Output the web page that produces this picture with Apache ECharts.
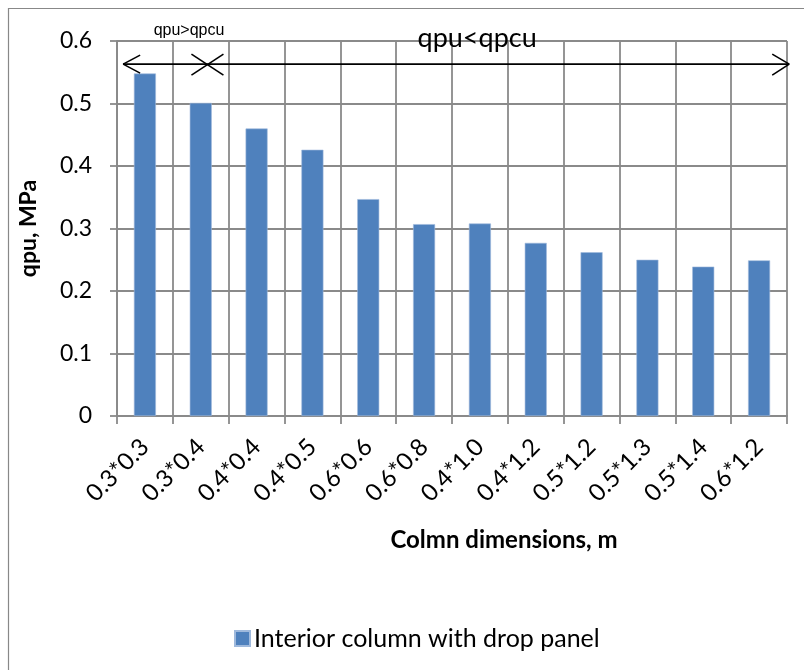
<!DOCTYPE html>
<html><head><meta charset="utf-8">
<script src="https://cdn.jsdelivr.net/npm/echarts@6/dist/echarts.min.js"></script>
<style>html,body{margin:0;padding:0;background:#fff}#c{width:804px;height:670px}</style>
</head><body><div id="c"></div>
<script>
const categories = ['0.3*0.3','0.3*0.4','0.4*0.4','0.4*0.5','0.6*0.6','0.6*0.8','0.4*1.0','0.4*1.2','0.5*1.2','0.5*1.3','0.5*1.4','0.6*1.2'];
const qpu = [0.548, 0.501, 0.460, 0.426, 0.347, 0.307, 0.308, 0.277, 0.262, 0.250, 0.239, 0.249];
const seriesName = 'Interior column with drop panel';
const yTicks = [0, 0.1, 0.2, 0.3, 0.4, 0.5, 0.6];
// annotation arrows (in category units along the axis, value units up)
const arrowY = 0.563;
const arrowLeft = 0.11, arrowSplit = 1.62, arrowRight = 12.04;
const note1 = {text: 'qpu>qpcu', x: 1.29, y: 0.616};
const note2 = {text: 'qpu<qpcu', x: 6.45, y: 0.605};

const FONT = 'Lato';
const grey = '#8a8a8a';
const chart = echarts.init(document.getElementById('c'), null, {renderer: 'canvas'});
chart.setOption({
  animation: false,
  backgroundColor: '#fff',
  textStyle: {fontFamily: FONT, color: '#000'},
  grid: {left: 117, right: 17, top: 41, bottom: 254, containLabel: false},
  legend: {
    left: 229, top: 621, itemWidth: 15, itemHeight: 15, itemGap: 6,
    icon: 'rect',
    textStyle: {fontFamily: FONT, fontSize: 25, color: '#000', padding: [0,0,0,-1]},
    data: [seriesName]
  },
  xAxis: [{
    type: 'category', data: categories,
    axisLine: {lineStyle: {color: grey, width: 1.8}},
    axisTick: {show: true, length: 8, lineStyle: {color: grey, width: 1.8}},
    splitLine: {show: true, lineStyle: {color: grey, width: 1.8}},
    axisLabel: {rotate: 45, fontFamily: FONT, fontSize: 24, color: '#000', margin: 27, interval: 0},
    name: 'Colmn dimensions, m', nameLocation: 'middle', nameGap: 112,
    nameTextStyle: {fontFamily: FONT, fontWeight: 'bold', fontSize: 24, color: '#000', padding: [0,0,0,104]}
  }, {
    type: 'value', min: 0, max: 12, show: false, position: 'bottom'
  }],
  yAxis: {
    type: 'value', min: 0, max: 0.6, interval: 0.1,
    axisLine: {show: true, lineStyle: {color: grey, width: 1.8}},
    axisTick: {show: true, length: 7, lineStyle: {color: grey, width: 1.8}},
    splitLine: {show: true, lineStyle: {color: grey, width: 1.8}},
    axisLabel: {fontFamily: FONT, fontSize: 23, color: '#000', margin: 25,
      formatter: v => { const t = yTicks.find(k => Math.abs(k - v) < 1e-9); return t === undefined ? '' : String(+t.toFixed(1)); }},
    name: 'qpu, MPa', nameLocation: 'middle', nameGap: 77, nameRotate: 90,
    nameTextStyle: {fontFamily: FONT, fontWeight: 'bold', fontSize: 23, color: '#000'}
  },
  series: [{
    name: seriesName, type: 'bar', data: qpu, barWidth: 22,
    itemStyle: {color: '#4f81bd', borderColor: '#9fb9dc', borderWidth: 0.6}
  }]
});

function px(x, y) { return chart.convertToPixel({xAxisIndex: 1, yAxisIndex: 0}, [x, y]); }
const L = px(arrowLeft, arrowY), S = px(arrowSplit, arrowY), R = px(arrowRight, arrowY);
const n1 = px(note1.x, note1.y), n2 = px(note2.x, note2.y);
const ln = (x1, y1, x2, y2) => ({type: 'line', shape: {x1, y1, x2, y2}, style: {stroke: '#000', lineWidth: 1.6}, z: 100});
chart.setOption({graphic: [
  {type: 'rect', shape: {x: 8.5, y: 8.5, width: 820, height: 700}, style: {fill: 'none', stroke: '#888', lineWidth: 1.2}, z: 0},
  ln(L[0], L[1], R[0], R[1]),
  ln(L[0], L[1], L[0] + 17, L[1] - 9), ln(L[0], L[1], L[0] + 17, L[1] + 9),
  ln(R[0], R[1], R[0] - 17, R[1] - 10), ln(R[0], R[1], R[0] - 17, R[1] + 11),
  ln(S[0] - 16, S[1] - 10, S[0] + 16, S[1] + 11), ln(S[0] - 16, S[1] + 11, S[0] + 16, S[1] - 10),
  {type: 'text', x: n1[0], y: n1[1], style: {text: note1.text, font: '16px "Liberation Sans"', fill: '#000', textAlign: 'center', textVerticalAlign: 'middle'}, z: 100},
  {type: 'text', x: n2[0], y: n2[1], style: {text: note2.text, font: '27px Lato', fill: '#000', textAlign: 'center', textVerticalAlign: 'middle'}, z: 100}
]});
</script></body></html>
